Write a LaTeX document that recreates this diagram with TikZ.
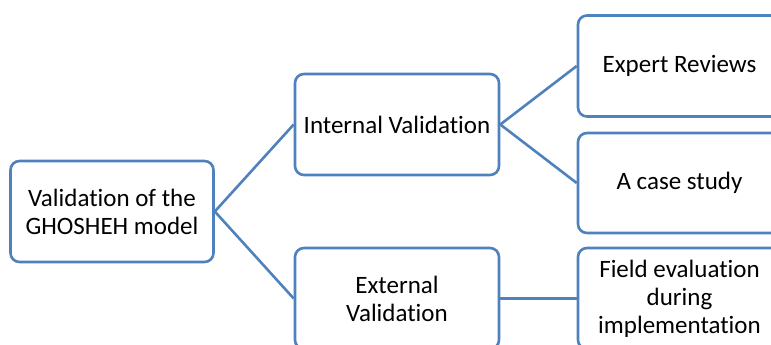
\documentclass[tikz,border=0pt]{standalone}
\usepackage{fontspec}
\setmainfont{Carlito}[Ligatures=NoCommon]
\definecolor{boxblue}{HTML}{4F81BD}
\tikzset{
  vbox/.style={draw=boxblue, line width=2.6pt, rounded corners=9pt, fill=white,
    minimum width=203pt, minimum height=101pt, inner sep=0pt, align=center,
    font=\fontsize{25}{28}\selectfont, text=black},
  link/.style={draw=boxblue, line width=2.6pt}
}
\begin{document}
\begin{tikzpicture}[x=1pt,y=-1pt]
\useasboundingbox (0,0) rectangle (771,345);
\clip (0,0) rectangle (771,345);
\node[vbox] (A) at (112,211.5) {Validation of the\\GHOSHEH model};
\node[vbox, minimum width=204pt] (B) at (397,124.5) {Internal Validation};
\node[vbox, minimum width=204pt] (C) at (397,298.5) {External\\Validation};
\node[vbox] (D) at (679.5,66) {Expert Reviews};
\node[vbox, minimum height=100pt] (E) at (679.5,183) {A case study};
\node[vbox] (F) at (679.5,298.5) {Field evaluation\\during\\implementation};
\draw[link] (A.east) -- (B.west);
\draw[link] (A.east) -- (C.west);
\draw[link] (B.east) -- (D.west);
\draw[link] (B.east) -- (E.west);
\draw[link] (C.east) -- (F.west);
\end{tikzpicture}
\end{document}
